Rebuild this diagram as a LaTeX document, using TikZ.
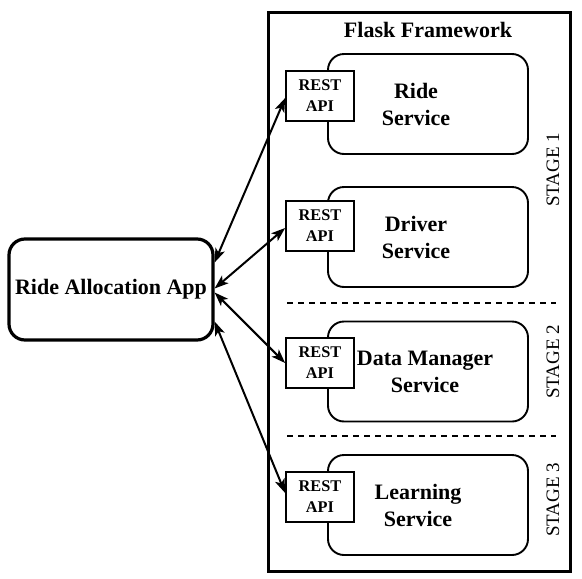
\documentclass[tikz,border=0pt]{standalone}
\usepackage{fontspec}
\setmainfont{Liberation Serif}
\usetikzlibrary{arrows.meta}
\begin{document}
\begin{tikzpicture}[x=1pt,y=-1pt,
  svc/.style={draw, line width=1.9pt, rounded corners=16pt, minimum width=200pt, minimum height=100pt, inner sep=0pt},
  rest/.style={draw, line width=1.7pt, fill=white, minimum width=68pt, minimum height=50pt, inner sep=0pt, font=\bfseries\fontsize{16.3}{21}\selectfont, align=center},
  svctext/.style={font=\bfseries\fontsize{22}{27}\selectfont, align=center, inner sep=0pt},
  stage/.style={rotate=90, font=\fontsize{19}{20}\selectfont, inner sep=0pt},
  sep/.style={line width=1.6pt, dash pattern=on 6pt off 5pt},
  conn/.style={line width=2pt, {Stealth[length=14pt,width=10pt,inset=3.5pt]}-{Stealth[length=14pt,width=10pt,inset=3.5pt]}}
]
\useasboundingbox (0,0) rectangle (582,579);
% outer frame
\node[draw, line width=3pt, minimum width=301.5pt, minimum height=559.5pt, inner sep=0pt] (frame) at (419.25,291.75) {};
\node[font=\bfseries\fontsize{22}{27}\selectfont, inner sep=0pt] (title) at (428,30) {Flask Framework};
% services
\node[svc] (b1) at (428,104) {};
\node[svc] (b2) at (428,237) {};
\node[svc] (b3) at (428,371.5) {};
\node[svc] (b4) at (428,505) {};
\node[svctext] (t1) at (416,104) {Ride\\Service};
\node[svctext] (t2) at (416,237) {Driver\\Service};
\node[svctext] (t3) at (425,371.5) {Data Manager\\Service};
\node[svctext] (t4) at (418,505) {Learning\\Service};
% REST boxes
\node[rest] (r1) at (320,96) {REST\\API};
\node[rest] (r2) at (320,226) {REST\\API};
\node[rest] (r3) at (320,363) {REST\\API};
\node[rest] (r4) at (320,497) {REST\\API};
% separators
\draw[sep] (287,303) -- (556,303);
\draw[sep] (287,436) -- (556,436);
% stages
\node[stage] (s1) at (553,170) {STAGE 1};
\node[stage] (s2) at (553,362) {STAGE 2};
\node[stage] (s3) at (553,500) {STAGE 3};
% app
\node[draw, line width=3.2pt, rounded corners=16pt, minimum width=204pt, minimum height=101pt, inner sep=0pt, font=\bfseries\fontsize{22}{27}\selectfont] (app) at (111,289.5) {Ride Allocation App};
% connectors
\draw[conn] ([yshift=27pt]app.east) -- ([yshift=-2pt]r1.west);
\draw[conn] ([yshift=1pt]app.east) -- ([yshift=-2pt]r2.west);
\draw[conn] ([yshift=-3pt]app.east) -- (r3.west);
\draw[conn] ([yshift=-32pt]app.east) -- ([yshift=4pt]r4.west);
\end{tikzpicture}
\end{document}
